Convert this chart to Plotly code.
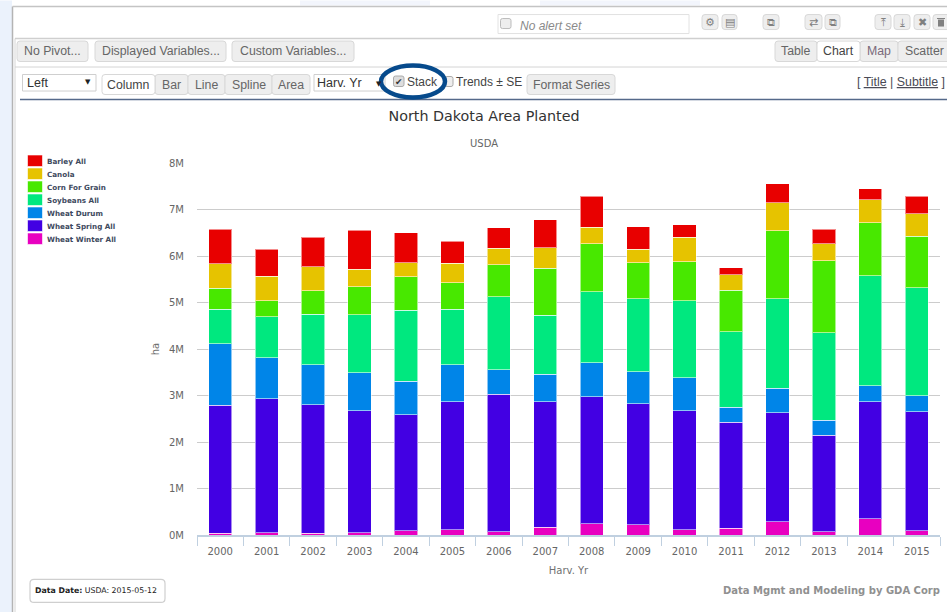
import plotly.graph_objects as go

years = ["2000","2001","2002","2003","2004","2005","2006","2007","2008","2009","2010","2011","2012","2013","2014","2015"]
# Area planted, millions of hectares, stacked from the bottom up
wheat_winter = [.04,.05,.04,.05,.09,.11,.07,.17,.245,.22,.11,.15,.28,.07,.345,.09]
wheat_spring = [2.75,2.88,2.76,2.62,2.50,2.76,2.96,2.70,2.725,2.60,2.56,2.27,2.35,2.07,2.525,2.56]
wheat_durum = [1.32,.88,.86,.82,.72,.79,.52,.59,.73,.69,.71,.33,.53,.33,.34,.34]
soybeans = [.75,.88,1.09,1.25,1.52,1.20,1.57,1.27,1.53,1.57,1.66,1.62,1.92,1.88,2.37,2.33]
corn = [.45,.35,.50,.60,.72,.56,.69,1.01,1.03,.78,.84,.89,1.46,1.55,1.14,1.10]
canola = [.52,.52,.52,.38,.31,.42,.36,.44,.36,.29,.52,.34,.60,.36,.49,.49]
barley = [.745,.59,.63,.83,.64,.48,.44,.60,.67,.48,.275,.15,.41,.315,.24,.37]

series_names = ["Wheat Winter All","Wheat Spring All","Wheat Durum","Soybeans All","Corn For Grain","Canola","Barley All"]
series_values = [wheat_winter,wheat_spring,wheat_durum,soybeans,corn,canola,barley]
series_colors = ["#E800C0","#4200E3","#0085E8","#00E87F","#48E800","#E6C300","#E80000"]

W, H = 947, 612
L, R, T, B = 197.0, 940.0, 162.5, 534.6
def X(p): return (p - L) / (R - L)
def Y(p): return (B - p) / (B - T)

fig = go.Figure()
for n, v, c in zip(series_names, series_values, series_colors):
    fig.add_bar(x=years, y=v, name=n, marker=dict(color=c, line=dict(color="rgba(255,255,255,0.55)", width=1)))

shapes, notes = [], []
def rect(x0, y0, x1, y1, fill=None, line=None, lw=1, layer="below"):
    shapes.append(dict(type="rect", xref="paper", yref="paper", x0=X(x0), x1=X(x1), y0=Y(y1), y1=Y(y0),
                       fillcolor=fill or "rgba(0,0,0,0)", line=dict(color=line or "rgba(0,0,0,0)", width=lw if line else 0), layer=layer))
def hline(x0, x1, y, color, lw=1):
    shapes.append(dict(type="line", xref="paper", yref="paper", x0=X(x0), x1=X(x1), y0=Y(y), y1=Y(y), line=dict(color=color, width=lw), layer="below"))
def vline(x, y0, y1, color, lw=1):
    shapes.append(dict(type="line", xref="paper", yref="paper", x0=X(x), x1=X(x), y0=Y(y0), y1=Y(y1), line=dict(color=color, width=lw), layer="below"))
def rrect(x0, y0, x1, y1, r=3, fill="#eeeeee", line="#d8d8d8", lw=1):
    a, b, c, d = X(x0), X(x1), Y(y0), Y(y1)
    rx, ry = r / (R - L), r / (B - T)
    p = (f"M{a+rx},{c} L{b-rx},{c} Q{b},{c} {b},{c-ry} L{b},{d+ry} Q{b},{d} {b-rx},{d} "
         f"L{a+rx},{d} Q{a},{d} {a},{d+ry} L{a},{c-ry} Q{a},{c} {a+rx},{c} Z")
    shapes.append(dict(type="path", xref="paper", yref="paper", path=p, fillcolor=fill, line=dict(color=line, width=lw), layer="below"))
def text(x, y, s, size=12, color="#555555", font="Liberation Sans", anchor="left", angle=0):
    notes.append(dict(xref="paper", yref="paper", x=X(x), y=Y(y), text=s, showarrow=False, xanchor=anchor, yanchor="middle",
                      font=dict(family=font, size=size, color=color), textangle=angle, borderpad=0, borderwidth=0))
def button(x0, x1, y0, y1, s, fill="#eeeeee", size=12.3, color="#666666"):
    rrect(x0, y0, x1, y1, 3, fill)
    text((x0 + x1) / 2, (y0 + y1) / 2, s, size, color, anchor="center")

# Page and panel frame
rect(0, 0, 12, 612, "#ebf2fc")
rect(300, 0, 430, 5, "#f2f5fc")
rect(540, 0, 700, 5, "#f2f5fc")
vline(12.5, 6, 612, "#b4b4b4", 1.5)
vline(15, 38, 612, "#d6d6d6", 1)
hline(12.5, 947, 6, "#c4c4c4", 1.5)
hline(15, 947, 38, "#cfcfcf", 1.5)
hline(15, 947, 66.5, "#d4d4d4", 1)
hline(20, 947, 99, "#55698a", 1.5)

# Alert bar and icon buttons
rect(498, 14, 689, 33, "#ffffff", "#e2e2e2")
rrect(500.5, 18, 511, 28, 2, "#eeeeee", "#bbbbbb")
notes.append(dict(xref="paper", yref="paper", x=X(519), y=Y(25), text="<i>No alert set</i>", showarrow=False, xanchor="left", yanchor="middle",
                  font=dict(family="Liberation Sans", size=12, color="#8a8a8a"), borderpad=0))
icons = [(702,718,"⚙"),(722,737,"▤"),(763,779,"⧉"),(805,822,"⇄"),(825,840,"⧉"),(875,891,"⤒"),(894,910,"⤓"),(914,930,"✖"),(933,950,"")]
for x0, x1, g in icons:
    rrect(x0, 14, x1, 29, 3)
    if g:
        text((x0 + x1) / 2, 21.5, g, 11, "#808080", "DejaVu Sans", "center")
rect(938, 19, 944, 26, "#808080")
hline(937, 945, 18, "#808080", 1)

# Pivot and view buttons
button(17, 88, 40.5, 61, "No Pivot...")
button(95, 226, 40.5, 61, "Displayed Variables...")
button(232, 354, 40.5, 61, "Custom Variables...")
button(775, 817, 40.5, 61, "Table")
button(860, 898, 40.5, 61, "Map", color="#7a6a7a")
button(898, 950, 40.5, 61, "Scatter")
button(817, 860, 40.5, 61, "Chart", "#ffffff", color="#444444")

# Chart type bar
rect(22.5, 74, 96, 90.5, "#ffffff", "#cfcfcf")
text(27, 82.5, "Left", 12.5, "#333333")
text(88, 81.5, "▼", 7, "#222222", "DejaVu Sans", "center")
button(155, 188, 74, 94, "Bar")
button(188, 225, 74, 94, "Line")
button(225, 272, 74, 94, "Spline")
button(272, 310, 74, 94, "Area")
button(102, 155, 74, 94, "Column", "#ffffff", color="#444444")
rect(314, 74, 385, 90.5, "#ffffff", "#cfcfcf")
text(317, 82.5, "Harv. Yr", 12.5, "#333333")
text(379, 83, "▼", 7, "#222222", "DejaVu Sans", "center")
rrect(393.5, 75.5, 404, 86, 2, "#dddddd", "#aaaaaa")
text(398.7, 81, "✔", 9, "#333333", "DejaVu Sans", "center")
text(407, 81.5, "Stack", 12, "#444444")
rrect(445, 76, 453, 86, 2, "#eeeeee", "#aaaaaa")
text(456, 81, "Trends ± SE", 12, "#444444")
button(527, 615, 74, 94, "Format Series")
text(945, 81.5, "[ <u>Title</u> | <u>Subtitle</u> ]", 12.4, "#4a4a55", anchor="right")
shapes.append(dict(type="circle", xref="paper", yref="paper", x0=X(381), x1=X(445), y0=Y(97), y1=Y(65),
                   fillcolor="rgba(0,0,0,0)", line=dict(color="#064a8c", width=4.5), layer="above"))

# Hand-placed legend, in the reference's order
for i, (n, c) in enumerate(zip(series_names[::-1], series_colors[::-1])):
    y = 154.5 + 13 * i
    rect(27.5, y, 42.5, y + 11.5, c, "rgba(255,255,255,0.6)")
    text(47, y + 6.8, "<b>" + n + "</b>", 7.2, "#3e4a5e", "DejaVu Sans")

# Chart subtitle and footer
text(484, 142.5, "USDA", 10, "#666666", "DejaVu Sans", "center")
rrect(30, 579, 165, 602, 4, "#ffffff", "#cfcfcf", 1.2)
text(34.5, 590, "<b>Data Date:</b> USDA: 2015-05-12", 7.8, "#222222", "DejaVu Sans")
text(940, 590, "<b>Data Mgmt and Modeling by GDA Corp</b>", 10, "#909090", "DejaVu Sans", "right")

fig.update_layout(
    width=W, height=H, autosize=False, barmode="stack", bargap=0.5, showlegend=False,
    margin=dict(l=L, r=W - R, t=T, b=H - B, pad=0),
    paper_bgcolor="#ffffff", plot_bgcolor="rgba(0,0,0,0)",
    title=dict(text="North Dakota Area Planted", x=484 / W, xanchor="center", y=1 - 116 / H, yanchor="middle",
               font=dict(family="DejaVu Sans", size=14.3, color="#333333")),
    xaxis=dict(type="category", tickson="boundaries", ticks="outside", ticklen=9, tickcolor="#c0d0e0", tickwidth=1,
               showline=True, linecolor="#c0d0e0", linewidth=1.5, showgrid=False, ticklabelstandoff=6,
               tickfont=dict(family="DejaVu Sans", size=10, color="#666666"),
               title=dict(text="Harv. Yr", standoff=11, font=dict(family="DejaVu Sans", size=10, color="#707070"))),
    yaxis=dict(range=[0, 8], dtick=1, ticksuffix="M", ticks="outside", ticklen=10, tickcolor="rgba(0,0,0,0)",
               gridcolor="#cccccc", gridwidth=1.2, zeroline=False, showline=False,
               tickfont=dict(family="DejaVu Sans", size=10, color="#666666"),
               title=dict(text="ha", standoff=7, font=dict(family="DejaVu Sans", size=10, color="#707070"))),
    shapes=shapes, annotations=notes, font=dict(family="DejaVu Sans"),
)
fig.write_html("out.html", config=dict(displayModeBar=False), post_script="document.body.style.margin='0';document.body.style.overflow='hidden';")
